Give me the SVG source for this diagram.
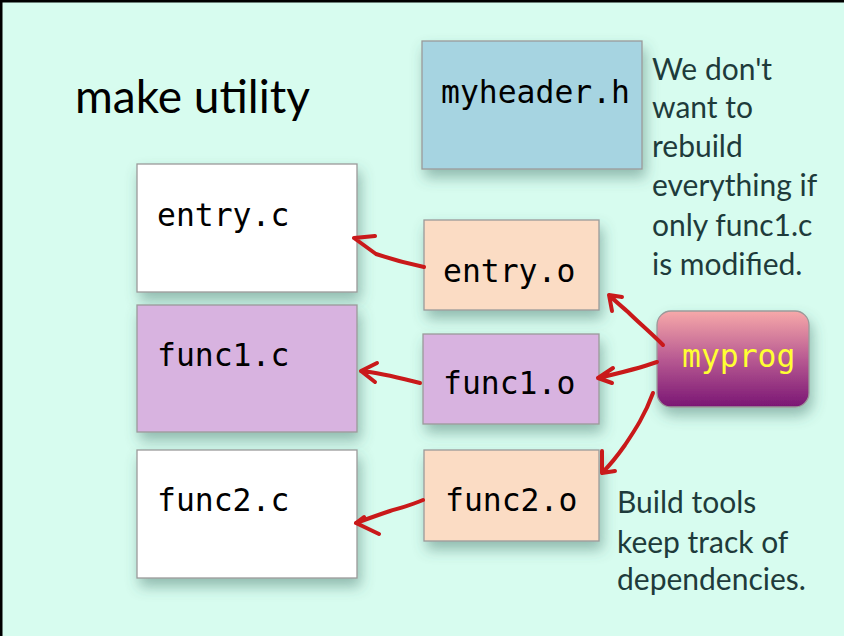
<svg xmlns="http://www.w3.org/2000/svg" width="844" height="636" viewBox="0 0 844 636">
<defs>
<filter id="sh" x="-20%" y="-20%" width="150%" height="160%">
<feDropShadow dx="3" dy="8" stdDeviation="7" flood-color="#3a6a60" flood-opacity="0.45"/>
</filter>
<linearGradient id="pg" x1="0" y1="0" x2="0" y2="1">
<stop offset="0" stop-color="#f7a9a9"/>
<stop offset="0.5" stop-color="#b85a92"/>
<stop offset="1" stop-color="#7a1674"/>
</linearGradient>
<style>
.box{stroke:#9a9a9a;stroke-width:1.3;filter:url(#sh)}
.mono{font-family:"DejaVu Sans Mono","Liberation Mono",monospace;font-size:31.4px;fill:#000}
.note{font-family:Lato,"Open Sans","Liberation Sans",sans-serif;font-size:30px;fill:#1e3b3b}
.arr{fill:none;stroke:#c9191a;stroke-width:4;stroke-linecap:round;stroke-linejoin:round}
</style>
</defs>
<rect x="0" y="0" width="844" height="636" fill="#d7fcef"/>
<path d="M1 636 V1 H844" fill="none" stroke="#000" stroke-width="3"/>
<text x="75" y="113" font-family="Lato,'Open Sans','Liberation Sans',sans-serif" font-size="46" fill="#000">make utility</text>
<g id="myheader"><rect class="box" x="422" y="41" width="220" height="128" fill="#a6d4e1"/><text class="mono" x="441" y="103">myheader.h</text></g>
<g id="entry_c"><rect class="box" x="137" y="164" width="220" height="128" fill="#ffffff"/><text class="mono" x="157" y="226">entry.c</text></g>
<g id="func1_c"><rect class="box" x="137" y="305" width="220" height="127" fill="#d8b3e0"/><text class="mono" x="157" y="366">func1.c</text></g>
<g id="func2_c"><rect class="box" x="137" y="450" width="220" height="128" fill="#ffffff"/><text class="mono" x="157" y="511">func2.c</text></g>
<g id="entry_o"><rect class="box" x="424" y="220" width="175" height="90" fill="#fbdcc4"/><text class="mono" x="443" y="282">entry.o</text></g>
<g id="func1_o"><rect class="box" x="423" y="334" width="176" height="90" fill="#d8b3e0"/><text class="mono" x="443" y="394">func1.o</text></g>
<g id="func2_o"><rect class="box" x="424" y="450" width="175" height="91" fill="#fbdcc4"/><text class="mono" x="445" y="511">func2.o</text></g>
<g id="myprog"><rect class="box" x="657" y="311" width="152" height="96" rx="14" fill="url(#pg)"/><text class="mono" x="682" y="367" style="fill:#ffff33">myprog</text></g>
<g id="notes">
<text class="note"><tspan x="652" y="80">We don't</tspan><tspan x="652" y="118">want to</tspan><tspan x="652" y="157">rebuild</tspan><tspan x="652" y="196">everything if</tspan><tspan x="652" y="236">only func1.c</tspan><tspan x="652" y="275">is modified.</tspan></text>
<text class="note"><tspan x="617" y="513">Build tools</tspan><tspan x="617" y="553">keep track of</tspan><tspan x="617" y="590">dependencies.</tspan></text>
</g>
<g id="connectors">
<path class="arr" d="M424 267 C405 263 388 258 376 254 L354 238 M354 238 L375 236"/>
<path class="arr" d="M420 383 C400 378 382 373 361 371 M361 371 L377 363 M361 371 L375 382"/>
<path class="arr" d="M423 500 C412 505 400 508 390 511 C378 515 367 519 356 523 M356 523 L364 517 M356 523 L379 534"/>
<path class="arr" d="M663 345 C650 332 638 322 628 312 C620 305 614 300 609 295 M609 295 L622 297 M609 295 L612 311"/>
<path class="arr" d="M657 362 C640 368 620 373 598 378 M598 378 L613 368 M598 378 L612 383"/>
<path class="arr" d="M653 393 C645 415 635 430 625 445 C618 455 610 465 602 473 M602 473 L602 451 M602 473 L615 471"/>
</g>
</svg>
